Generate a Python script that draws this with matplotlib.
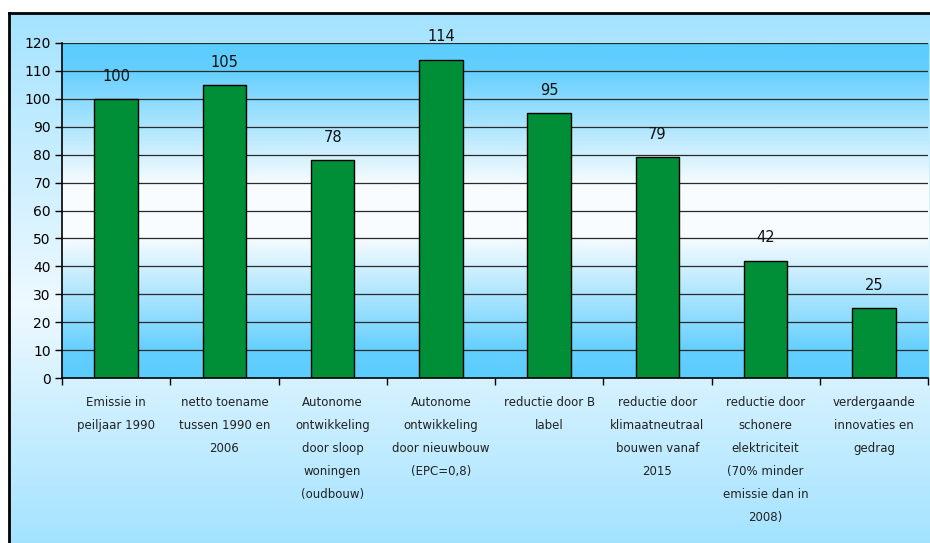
import numpy as np
import matplotlib
matplotlib.use("Agg")
import matplotlib.pyplot as plt
from matplotlib.colors import LinearSegmentedColormap

categories = [
    "Emissie in\npeiljaar 1990",
    "netto toename\ntussen 1990 en\n2006",
    "Autonome\nontwikkeling\ndoor sloop\nwoningen\n(oudbouw)",
    "Autonome\nontwikkeling\ndoor nieuwbouw\n(EPC=0,8)",
    "reductie door B\nlabel",
    "reductie door\nklimaatneutraal\nbouwen vanaf\n2015",
    "reductie door\nschonere\nelektriciteit\n(70% minder\nemissie dan in\n2008)",
    "verdergaande\ninnovaties en\ngedrag",
]
values = [100, 105, 78, 114, 95, 79, 42, 25]
yticks = list(range(0, 121, 10))

plt.rcParams['font.family'] = ['DejaVu Sans']

W, H = 930, 543
fig = plt.figure(figsize=(W / 100, H / 100), dpi=100, facecolor="white")

# chart area background: light blue at top and bottom, almost white in the middle,
# with a white margin left of and above the frame
fig_cmap = LinearSegmentedColormap.from_list(
    "figbg", [(0.0, "#a4e3ff"), (0.55, "#eef9ff"), (1.0, "#a4e3ff")])
mx, my = 9, 13
rows = fig_cmap(np.linspace(0, 1, H - my))[:, :3]
bg = np.ones((H, W, 3))
bg[my:, mx:, :] = rows[:, None, :]
fig.figimage(bg, xo=0, yo=0, origin="upper", zorder=-10)

# frame line along the left and top edge
left, top = mx / W, my / H
fig.add_artist(plt.Line2D([left, left], [0, 1 - top], color="black", lw=2))
fig.add_artist(plt.Line2D([left, 1], [1 - top, 1 - top], color="black", lw=2))

ax = fig.add_axes([62 / W, 1 - 378 / H, 866 / W, 335 / H])
x = np.arange(len(values))
ax.set_xlim(-0.5, len(values) - 0.5)
ax.set_ylim(0, 120)

# plot area gradient: saturated blue at top and bottom, white around the middle
plot_cmap = LinearSegmentedColormap.from_list(
    "plotbg", [(0.0, "#5acdfe"), (0.08, "#64cffe"), (0.42, "#f8fcff"),
               (0.58, "#f8fcff"), (0.92, "#64cffe"), (1.0, "#5acdfe")])
grad = np.linspace(0, 1, 256).reshape(-1, 1)
ax.imshow(grad, cmap=plot_cmap, aspect="auto",
          extent=[-0.5, len(values) - 0.5, 0, 120], origin="upper", zorder=0)

for t in yticks[1:]:
    ax.axhline(t, color="#2a2a2a", lw=0.9, zorder=1)

ax.bar(x, values, width=0.4, color="#008f36", edgecolor="black", linewidth=1.0, zorder=3)
for xi, v in zip(x, values):
    ax.annotate(str(v), (xi, v), xytext=(0, 11), textcoords="offset points",
                ha="center", va="bottom", fontsize=10.5, color="#111111")

ax.set_yticks(yticks)
ax.tick_params(axis="y", length=5, width=1, labelsize=10, pad=3, colors="black")
ax.set_xticks(x)
ax.set_xticklabels(categories, fontsize=8.5, linespacing=2.0, color="#222222")
ax.tick_params(axis="x", which="major", length=0, pad=13)
ax.set_xticks(np.arange(-0.5, len(values)), minor=True)
ax.tick_params(axis="x", which="minor", length=5, width=1, color="black")

for side in ("top", "right"):
    ax.spines[side].set_visible(False)
for side in ("left", "bottom"):
    ax.spines[side].set_color("black")
    ax.spines[side].set_linewidth(1.2)
    ax.spines[side].set_zorder(4)

fig.savefig("out.png", dpi=100, facecolor="white")
